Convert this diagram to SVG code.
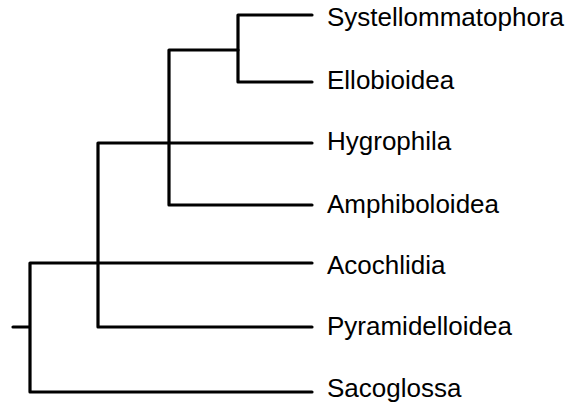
<svg xmlns="http://www.w3.org/2000/svg" width="575" height="407" viewBox="0 0 575 407">
<style>
.br{fill:none;stroke:#000;stroke-width:3.2;stroke-linecap:round;stroke-linejoin:round}
.lb{font-family:"Liberation Sans",Arial,sans-serif;font-size:26px;fill:#000}
</style>
<rect width="575" height="407" fill="#fff"/>
<g id="connectors">
<path class="br" d="M13,327H30M30,263V392M30,392H312M30,263H312"/>
<path class="br" d="M98,143V327M98,143H312M98,327H312"/>
<path class="br" d="M169,50V205M169,205H312M169,50H238"/>
<path class="br" d="M238,15V82M238,15H312M238,82H312"/>
</g>
<g id="systellommatophora"><text class="lb" x="327" y="26">Systellommatophora</text></g>
<g id="ellobioidea"><text class="lb" x="327" y="89">Ellobioidea</text></g>
<g id="hygrophila"><text class="lb" x="327" y="150">Hygrophila</text></g>
<g id="amphiboloidea"><text class="lb" x="327" y="213">Amphiboloidea</text></g>
<g id="acochlidia"><text class="lb" x="327" y="274">Acochlidia</text></g>
<g id="pyramidelloidea"><text class="lb" x="327" y="335">Pyramidelloidea</text></g>
<g id="sacoglossa"><text class="lb" x="327" y="397">Sacoglossa</text></g>
</svg>
